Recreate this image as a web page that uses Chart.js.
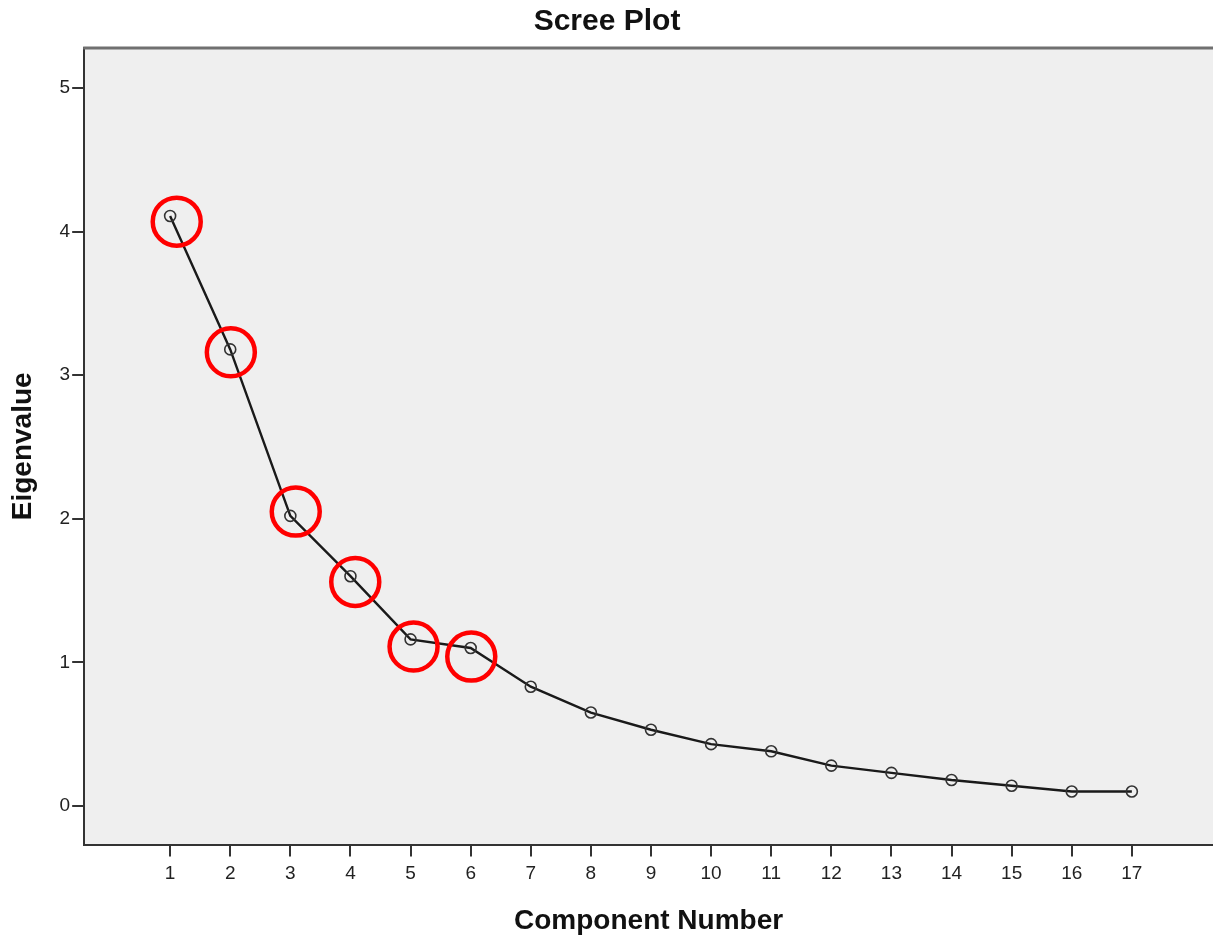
<!DOCTYPE html>
<html>
<head>
<meta charset="utf-8">
<title>Scree Plot</title>
<script src="https://cdn.jsdelivr.net/npm/chart.js@4.4.1/dist/chart.umd.min.js"></script>
<style>
  html, body { margin: 0; padding: 0; background: #fff; }
  #wrap { width: 1213px; height: 938px; position: relative; }
</style>
</head>
<body>
<div id="wrap"><canvas id="scree"></canvas></div>
<script>
  // Dados
  const componentes = [1, 2, 3, 4, 5, 6, 7, 8, 9, 10, 11, 12, 13, 14, 15, 16, 17];
  const autovalores = [4.11, 3.18, 2.02, 1.60, 1.16, 1.10, 0.83, 0.65, 0.53, 0.43, 0.38, 0.28, 0.23, 0.18, 0.14, 0.10, 0.10];

  // Círculos vermelhos de destaque (posições em unidades do gráfico)
  const destaqueX = [1.11, 2.01, 3.09, 4.08, 5.05, 6.01];
  const destaqueY = [4.07, 3.16, 2.05, 1.56, 1.11, 1.04];

  const ticksX = [1, 2, 3, 4, 5, 6, 7, 8, 9, 10, 11, 12, 13, 14, 15, 16, 17];
  const ticksY = [0, 1, 2, 3, 4, 5];

  const fonte = "'Liberation Sans', Arial, sans-serif";

  // Fundo cinza da área do gráfico + borda superior
  const fundoPlot = {
    id: 'fundoPlot',
    beforeDraw(chart) {
      const { ctx, chartArea: a } = chart;
      ctx.save();
      ctx.fillStyle = '#efefef';
      ctx.fillRect(a.left, a.top, a.right - a.left, a.bottom - a.top);
      ctx.restore();
    },
    afterDraw(chart) {
      const { ctx, chartArea: a } = chart;
      ctx.save();
      ctx.strokeStyle = '#707070';
      ctx.lineWidth = 3;
      ctx.beginPath();
      ctx.moveTo(a.left - 1, a.top);
      ctx.lineTo(a.right, a.top);
      ctx.stroke();
      ctx.restore();
    }
  };

  new Chart(document.getElementById('scree'), {
    type: 'scatter',
    data: {
      datasets: [
        {
          label: 'Destaque',
          data: destaqueX.map((x, i) => ({ x, y: destaqueY[i] })),
          showLine: false,
          clip: false,
          pointStyle: 'circle',
          pointRadius: 24,
          pointBorderWidth: 4.5,
          pointBorderColor: '#ff0000',
          pointBackgroundColor: 'rgba(0,0,0,0)',
          order: 0
        },
        {
          label: 'Eigenvalue',
          data: componentes.map((x, i) => ({ x, y: autovalores[i] })),
          showLine: true,
          borderColor: '#1a1a1a',
          borderWidth: 2.4,
          tension: 0,
          pointStyle: 'circle',
          pointRadius: 5.5,
          pointBorderWidth: 1.6,
          pointBorderColor: '#333',
          pointBackgroundColor: 'rgba(0,0,0,0)',
          order: 1
        }
      ]
    },
    options: {
      responsive: true,
      maintainAspectRatio: false,
      animation: false,
      events: [],
      layout: { autoPadding: false, padding: { left: 1, right: 0, top: 0, bottom: 0 } },
      plugins: {
        legend: { display: false },
        tooltip: { enabled: false },
        title: {
          display: true,
          text: 'Scree Plot',
          color: '#111',
          font: { family: fonte, size: 30, weight: 'bold' },
          padding: { top: 4, bottom: 8 }
        }
      },
      scales: {
        x: {
          type: 'linear',
          min: -0.43,
          max: 18.35,
          afterBuildTicks: axis => { axis.ticks = ticksX.map(v => ({ value: v })); },
          ticks: { color: '#222', font: { family: fonte, size: 19 }, padding: 6, maxRotation: 0, autoSkip: false },
          grid: { drawOnChartArea: false, drawTicks: true, tickLength: 12, tickColor: '#333', tickWidth: 2, lineWidth: 2 },
          border: { display: true, color: '#333', width: 2 },
          title: {
            display: true,
            text: 'Component Number',
            color: '#111',
            font: { family: fonte, size: 28, weight: 'bold' },
            padding: { top: 13, bottom: 0 }
          }
        },
        y: {
          type: 'linear',
          min: -0.27,
          max: 5.28,
          afterBuildTicks: axis => { axis.ticks = ticksY.map(v => ({ value: v })); },
          ticks: { color: '#222', font: { family: fonte, size: 19 }, padding: 2 },
          grid: { drawOnChartArea: false, drawTicks: true, tickLength: 12, tickColor: '#333', tickWidth: 2, lineWidth: 2 },
          border: { display: true, color: '#333', width: 2 },
          title: {
            display: true,
            text: 'Eigenvalue',
            color: '#111',
            font: { family: fonte, size: 28, weight: 'bold' },
            padding: { top: 5, bottom: 18 }
          }
        }
      }
    },
    plugins: [fundoPlot]
  });
</script>
</body>
</html>
